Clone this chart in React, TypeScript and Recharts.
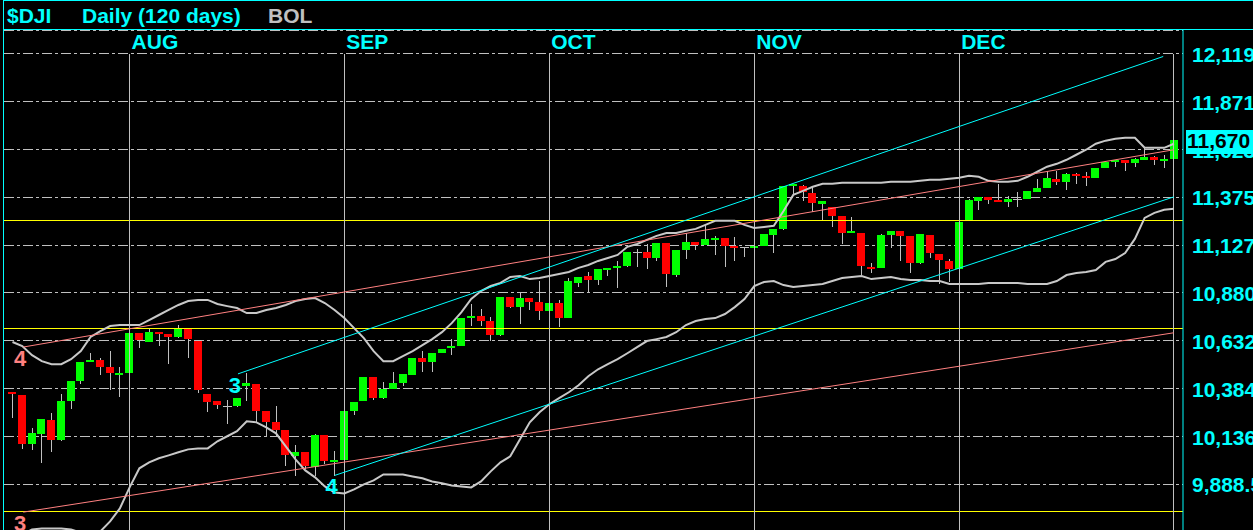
import React from "react";
import {
  ComposedChart,
  Bar,
  Line,
  XAxis,
  YAxis,
  CartesianGrid,
  ReferenceLine,
  ReferenceDot,
} from "recharts";

// $DJI daily, 15 Jul 2010 .. 3 Jan 2011 (120 sessions)
const opens = [
  10368, 10350, 10098, 10150, 10221, 10118, 10321, 10425, 10522, 10531,
  10496, 10461, 10466, 10674, 10626, 10679, 10667, 10653, 10695, 10631,
  10356, 10321, 10297, 10293, 10399, 10408, 10267, 10210, 10169, 10035,
  10055, 9980, 10143, 10003, 10013, 10269, 10321, 10444, 10336, 10385,
  10414, 10456, 10543, 10522, 10568, 10594, 10605, 10752, 10760, 10735,
  10660, 10859, 10807, 10854, 10833, 10788, 10828, 10752, 10933, 10968,
  10947, 11006, 11010, 11020, 11093, 11093, 11062, 11139, 10975, 11103,
  11145, 11131, 11160, 11165, 11124, 11119, 11120, 11124, 11181, 11212,
  11437, 11435, 11399, 11342, 11326, 11279, 11191, 11191, 11016, 11011,
  11181, 11202, 11176, 11037, 11181, 11082, 11046, 11006, 11254, 11357,
  11378, 11363, 11352, 11368, 11368, 11404, 11425, 11472, 11456, 11497,
  11487, 11477, 11529, 11556, 11570, 11555, 11570, 11586, 11565, 11575,
];
const highs = [
  10369, 10351, 10181, 10227, 10257, 10356, 10424, 10523, 10567, 10544,
  10579, 10499, 10675, 10675, 10691, 10680, 10668, 10714, 10696, 10632,
  10357, 10322, 10326, 10336, 10466, 10409, 10269, 10297, 10170, 10091,
  10056, 10148, 10144, 10063, 10269, 10315, 10445, 10445, 10418, 10471,
  10460, 10544, 10579, 10570, 10590, 10640, 10753, 10824, 10795, 10755,
  10860, 10860, 10878, 10855, 10942, 10829, 10844, 10956, 10964, 10989,
  11005, 11012, 11046, 11094, 11107, 11133, 11140, 11140, 11104, 11193,
  11146, 11236, 11176, 11167, 11171, 11120, 11125, 11187, 11213, 11436,
  11445, 11437, 11426, 11359, 11328, 11281, 11274, 11193, 11037, 11188,
  11203, 11203, 11177, 11187, 11182, 11083, 11058, 11249, 11368, 11379,
  11379, 11447, 11383, 11404, 11410, 11472, 11513, 11513, 11504, 11499,
  11508, 11530, 11561, 11571, 11571, 11581, 11632, 11587, 11595, 11671,
];
const lows = [
  10233, 10072, 10067, 9999, 10056, 10113, 10279, 10409, 10520, 10456,
  10380, 10342, 10465, 10596, 10624, 10608, 10510, 10645, 10544, 10362,
  10264, 10279, 10202, 10292, 10323, 10212, 10139, 10139, 9984, 9932,
  9968, 9930, 9996, 9934, 10011, 10247, 10319, 10325, 10330, 10384,
  10397, 10454, 10470, 10470, 10567, 10557, 10603, 10709, 10709, 10631,
  10659, 10804, 10721, 10793, 10741, 10787, 10705, 10750, 10911, 10887,
  10923, 10968, 10907, 11015, 11015, 11004, 11046, 10913, 10964, 11056,
  11103, 11129, 11079, 11016, 11046, 11068, 11119, 11122, 11089, 11207,
  11392, 11357, 11297, 11254, 11222, 11136, 11190, 10973, 10985, 11008,
  11115, 11046, 10985, 11032, 11063, 10925, 10939, 11004, 11252, 11312,
  11343, 11349, 11323, 11326, 11366, 11403, 11423, 11440, 11414, 11446,
  11435, 11475, 11527, 11535, 11513, 11535, 11567, 11544, 11525, 11574,
];
const closes = [
  10357, 10098, 10153, 10226, 10118, 10319, 10423, 10522, 10532, 10497,
  10465, 10466, 10674, 10636, 10677, 10674, 10653, 10695, 10643, 10378,
  10316, 10300, 10297, 10335, 10414, 10271, 10212, 10170, 10041, 10055,
  9982, 10147, 10008, 10013, 10267, 10314, 10444, 10335, 10382, 10413,
  10459, 10543, 10522, 10568, 10589, 10605, 10752, 10760, 10735, 10662,
  10859, 10807, 10852, 10835, 10788, 10828, 10752, 10942, 10963, 10947,
  11004, 11011, 11020, 11093, 11093, 11062, 11139, 10980, 11103, 11145,
  11131, 11160, 11165, 11124, 11113, 11119, 11124, 11186, 11212, 11435,
  11444, 11404, 11347, 11357, 11279, 11193, 11202, 11020, 11006, 11181,
  11202, 11176, 11037, 11186, 11089, 11051, 11006, 11248, 11363, 11378,
  11363, 11357, 11368, 11368, 11409, 11425, 11477, 11456, 11497, 11492,
  11477, 11529, 11560, 11570, 11555, 11575, 11586, 11570, 11575, 11670,
];

// Bollinger bands (20 day)
const bolUpper = [
  10626, 10605, 10558, 10527, 10511, 10511, 10537, 10579, 10652, 10683,
  10709, 10714, 10714, 10714, 10740, 10766, 10792, 10818, 10838, 10844,
  10844, 10823, 10812, 10802, 10776, 10776, 10792, 10802, 10818, 10838,
  10849, 10854, 10828, 10792, 10750, 10698, 10646, 10579, 10527, 10527,
  10553, 10579, 10610, 10641, 10677, 10724, 10781, 10849, 10890, 10916,
  10932, 10963, 10968, 10952, 10958, 10968, 10978, 10989, 11010, 11025,
  11046, 11061, 11077, 11119, 11134, 11155, 11176, 11191, 11191, 11202,
  11212, 11233, 11254, 11254, 11254, 11233, 11217, 11222, 11228, 11305,
  11388, 11409, 11430, 11446, 11446, 11451, 11451, 11451, 11451, 11451,
  11456, 11456, 11456, 11461, 11466, 11466, 11472, 11477, 11487, 11482,
  11461, 11456, 11456, 11461, 11482, 11508, 11534, 11549, 11570, 11596,
  11622, 11653, 11669, 11679, 11684, 11684, 11632, 11632, 11632, 11653,
];
const bolLower = [
  9593, 9629, 9655, 9660, 9660, 9660, 9655, 9639, 9634, 9645,
  9697, 9764, 9873, 9972, 10003, 10024, 10039, 10055, 10070, 10075,
  10075, 10112, 10138, 10164, 10216, 10210, 10184, 10153, 10086, 10018,
  9961, 9925, 9878, 9847, 9842, 9863, 9889, 9909, 9940, 9940,
  9940, 9930, 9920, 9904, 9894, 9883, 9878, 9873, 9904, 9956,
  10003, 10034, 10122, 10210, 10262, 10304, 10335, 10366, 10402, 10449,
  10485, 10511, 10537, 10568, 10600, 10631, 10641, 10652, 10677, 10714,
  10735, 10745, 10750, 10771, 10807, 10849, 10916, 10937, 10942, 10921,
  10911, 10916, 10921, 10927, 10942, 10958, 10963, 10968, 10952, 10958,
  10963, 10952, 10947, 10947, 10942, 10942, 10927, 10927, 10927, 10927,
  10932, 10932, 10932, 10932, 10927, 10927, 10927, 10942, 10973, 10984,
  10989, 10999, 11041, 11056, 11087, 11160, 11269, 11295, 11311, 11316,
];

const priceTicks = [9888.5, 10136, 10384, 10632, 10880, 11127, 11375, 11623, 11871, 12119];
const priceLabels = ["9,888.5", "10,136", "10,384", "10,632", "10,880", "11,127", "11,375", "11,623", "11,871", "12,119"];

// first session of each month
const monthStarts = [
  { label: "AUG", index: 12 },
  { label: "SEP", index: 34 },
  { label: "OCT", index: 55 },
  { label: "NOV", index: 76 },
  { label: "DEC", index: 97 },
  { label: "", index: 119 },
];

const levels = [11253, 10698, 9748];

const trendLines = [
  { color: "#ff8080", tag: "4", x1: 1.1, y1: 10600, x2: 119, y2: 11622 },
  { color: "#ff8080", tag: "3", x1: 1.1, y1: 9745, x2: 119, y2: 10674 },
  { color: "#00ffff", tag: "3", x1: 23.1, y1: 10461, x2: 117.9, y2: 12105 },
  { color: "#00ffff", tag: "4", x1: 33, y1: 9935, x2: 119, y2: 11378 },
];

const UP = "#00ff00";
const DOWN = "#ff0000";
const WICK = "#c0c0c0";
const CYAN = "#00ffff";
const FONT = "'Liberation Sans', Arial, sans-serif";
const Y_DOMAIN = [9652.4, 12242.2];

const data = closes.map((c, i) => ({
  i,
  open: opens[i],
  high: highs[i],
  low: lows[i],
  close: c,
  up: bolUpper[i],
  lo: bolLower[i],
}));

const lastClose = closes[closes.length - 1];

const Candle = (props: any) => {
  const { x, width, y, height, payload } = props;
  if (!payload) return null;
  const { open, close, high, low } = payload;
  const span = high - low || 1;
  const py = (v: number) => y + ((high - v) / span) * height;
  const cx = Math.floor(x + width / 2) + 0.5;
  const top = Math.round(py(Math.max(open, close)));
  const bot = Math.round(py(Math.min(open, close)));
  const color = close > open ? UP : close < open ? DOWN : WICK;
  return (
    <g>
      <line x1={cx} x2={cx} y1={Math.round(y)} y2={Math.round(y + height)} stroke={WICK} strokeWidth={1} />
      {close === open ? (
        <rect x={cx - 4.5} y={top} width={9} height={1} fill={WICK} />
      ) : (
        <rect x={cx - 4.5} y={top} width={8} height={Math.max(2, bot - top)} fill={color} />
      )}
    </g>
  );
};

const PriceTick = (props: any) => {
  const { y, payload } = props;
  const k = priceTicks.indexOf(payload.value);
  return (
    <text x={1192} y={y + 8} fill={CYAN} fontSize={21} fontWeight="bold" fontFamily={FONT}>
      {priceLabels[k]}
    </text>
  );
};

// highlighted last price, drawn by a second axis so it sits on top of the price labels
const LastTick = (props: any) => {
  const { y } = props;
  return (
    <g>
      <rect x={1186} y={Math.round(y) - 10} width={70} height={24} fill={CYAN} />
      <text x={1187} y={y + 8} fill="#000" fontSize={21} fontWeight="bold" fontFamily={FONT}>
        {lastClose.toLocaleString("en-US")}
      </text>
    </g>
  );
};

export default function App() {
  return (
    <div
      style={{
        position: "fixed",
        left: 0,
        top: 0,
        width: 1253,
        height: 530,
        background: "#000",
        overflow: "hidden",
        fontFamily: FONT,
      }}
    >
      {/* frame + header */}
      <div
        style={{
          position: "absolute",
          left: 3,
          top: 0,
          width: 1250,
          height: 530,
          borderLeft: `1px solid ${CYAN}`,
          borderTop: `1px solid ${CYAN}`,
          boxSizing: "border-box",
        }}
      />
      <div style={{ position: "absolute", left: 3, top: 29, width: 1250, height: 1, background: CYAN }} />
      <svg width={1253} height={29} style={{ position: "absolute", left: 0, top: 0 }}>
        <text x={7} y={23} fill={CYAN} fontSize={21} fontWeight="bold" fontFamily={FONT}>$DJI</text>
        <text x={82} y={23} fill={CYAN} fontSize={21} fontWeight="bold" fontFamily={FONT}>Daily (120 days)</text>
        <text x={268} y={23} fill="#c0c0c0" fontSize={21} fontWeight="bold" fontFamily={FONT}>BOL</text>
      </svg>

      <div style={{ position: "absolute", left: 0, top: 0 }}>
        <ComposedChart
          width={1253}
          height={530}
          data={data}
          margin={{ top: 30, right: 0, bottom: 0, left: 4 }}
        >
          <CartesianGrid
            vertical={false}
            stroke="#c0c0c0"
            strokeDasharray="10 3 3 3"
            shapeRendering="crispEdges"
          />
          <XAxis
            dataKey="i"
            type="number"
            domain={[-0.871, 119.93]}
            allowDataOverflow
            ticks={data.map((d) => d.i)}
            interval={0}
            height={1}
            mirror
            axisLine={false}
            tick={false}
            tickSize={3}
            tickLine={{ stroke: CYAN }}
          />
          <YAxis
            orientation="right"
            width={69}
            type="number"
            domain={Y_DOMAIN}
            allowDataOverflow
            ticks={priceTicks}
            interval={0}
            axisLine={{ stroke: CYAN }}
            tickLine={false}
            tick={<PriceTick />}
          />
          <YAxis
            yAxisId="last"
            orientation="right"
            width={1}
            type="number"
            domain={Y_DOMAIN}
            allowDataOverflow
            ticks={[lastClose]}
            interval={0}
            axisLine={false}
            tickLine={false}
            tick={<LastTick />}
          />

          {levels.map((v) => (
            <ReferenceLine key={v} y={v} stroke="#ffff00" strokeWidth={1} shapeRendering="crispEdges" />
          ))}

          {monthStarts.map((m) => (
            <ReferenceLine
              key={m.index}
              ifOverflow="visible"
              segment={[
                { x: m.index, y: priceTicks[priceTicks.length - 1] },
                { x: m.index, y: Y_DOMAIN[0] },
              ]}
              stroke="#c0c0c0"
              strokeWidth={1}
              shapeRendering="crispEdges"
              label={(p: any) => (
                <text
                  x={(p.viewBox?.x ?? 0) + 2}
                  y={49}
                  fill={CYAN}
                  fontSize={21}
                  fontWeight="bold"
                  fontFamily={FONT}
                >
                  {m.label}
                </text>
              )}
            />
          ))}

          <Bar
            dataKey={(d: any) => [d.low, d.high]}
            barSize={8}
            shape={<Candle />}
            isAnimationActive={false}
          />

          <Line
            type="linear"
            dataKey="up"
            stroke="#c8c8c8"
            strokeWidth={2}
            dot={false}
            activeDot={false}
            isAnimationActive={false}
          />
          <Line
            type="linear"
            dataKey="lo"
            stroke="#c8c8c8"
            strokeWidth={2}
            dot={false}
            activeDot={false}
            isAnimationActive={false}
          />

          {trendLines.map((t, k) => (
            <ReferenceLine
              key={`t${k}`}
              segment={[
                { x: t.x1, y: t.y1 },
                { x: t.x2, y: t.y2 },
              ]}
              stroke={t.color}
              strokeWidth={1}
            />
          ))}
          {trendLines.map((t, k) => (
            <ReferenceDot
              key={`d${k}`}
              x={t.x1}
              y={t.y1}
              r={0}
              ifOverflow="visible"
              shape={(p: any) => (
                <text
                  x={p.cx - 3}
                  y={p.cy + 19}
                  fill={t.color}
                  fontSize={22}
                  fontWeight="bold"
                  fontFamily={FONT}
                  textAnchor="middle"
                >
                  {t.tag}
                </text>
              )}
            />
          ))}
        </ComposedChart>
      </div>
    </div>
  );
}
